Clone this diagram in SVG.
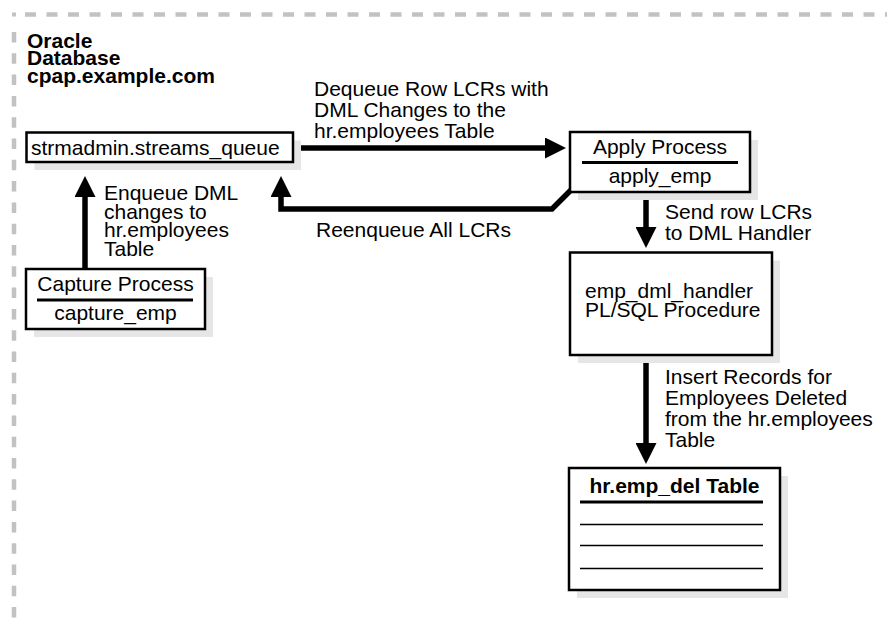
<svg xmlns="http://www.w3.org/2000/svg" width="887" height="621" viewBox="0 0 887 621">
<style>
text{font-family:"Liberation Sans",Arial,sans-serif;font-size:21px;fill:#000}
.b{font-weight:bold}
.c{text-anchor:middle}
.box{fill:#fff;stroke:#000;stroke-width:2.5}
.sh{fill:#e6e6e6;stroke:none}
.sep{stroke:#000;stroke-width:3}
.thin{stroke:#000;stroke-width:1.5}
.con{fill:none;stroke:#000;stroke-width:5.5;stroke-linejoin:miter}
.dash{fill:none;stroke:#c2c2c2;stroke-width:4.5}
</style>
<defs>
<marker id="ah" markerUnits="userSpaceOnUse" markerWidth="21" markerHeight="21" refX="0" refY="10.5" orient="auto" viewBox="0 0 21 21">
<path d="M0,0 L21,10.5 L0,21 Z" fill="#000"/>
</marker>
</defs>
<g id="border">
<rect x="12" y="12.5" width="4" height="4" fill="#c2c2c2"/>
<path class="dash" d="M25,14.5 H887" stroke-dasharray="11 10.5"/>
<path class="dash" d="M14,32 V621" stroke-dasharray="10.5 10.8"/>
</g>
<g id="title">
<text class="b" x="27" y="48">Oracle</text>
<text class="b" x="27" y="65">Database</text>
<text class="b" x="27" y="83">cpap.example.com</text>
</g>
<g id="connectors">
<path class="con" d="M293,148 H545" marker-end="url(#ah)"/>
<path class="con" d="M571,190 L552,209 H281 V197" marker-end="url(#ah)"/>
<path class="con" d="M85,269 V197" marker-end="url(#ah)"/>
<path class="con" d="M646,192 V227" marker-end="url(#ah)"/>
<path class="con" d="M646,355 V443" marker-end="url(#ah)"/>
<text x="314" y="96">Dequeue Row LCRs with</text>
<text x="314" y="117">DML Changes to the</text>
<text x="314" y="138">hr.employees Table</text>
<text x="316" y="237">Reenqueue All LCRs</text>
<text x="104" y="200">Enqueue DML</text>
<text x="104" y="218.5">changes to</text>
<text x="104" y="237">hr.employees</text>
<text x="104" y="255.5">Table</text>
<text x="665" y="219">Send row LCRs</text>
<text x="665" y="240">to DML Handler</text>
<text x="665" y="384">Insert Records for</text>
<text x="665" y="405">Employees Deleted</text>
<text x="665" y="426">from the hr.employees</text>
<text x="665" y="447">Table</text>
</g>
<g id="queue">
<rect class="sh" x="34.5" y="140.5" width="266.5" height="29.5"/>
<rect class="box" x="26.5" y="132.5" width="266.5" height="29.5"/>
<text x="31" y="155">strmadmin.streams_queue</text>
</g>
<g id="apply">
<rect class="sh" x="578" y="140" width="180" height="60"/>
<rect class="box" x="570" y="132" width="180" height="60"/>
<text class="c" x="660" y="154">Apply Process</text>
<line class="sep" x1="582" y1="162.5" x2="738" y2="162.5"/>
<text class="c" x="660" y="183">apply_emp</text>
</g>
<g id="capture">
<rect class="sh" x="34" y="277" width="179" height="60"/>
<rect class="box" x="26" y="269" width="179" height="60"/>
<text class="c" x="115.5" y="291">Capture Process</text>
<line class="sep" x1="37" y1="300" x2="193" y2="300"/>
<text class="c" x="115.5" y="320">capture_emp</text>
</g>
<g id="handler">
<rect class="sh" x="578" y="260.5" width="202" height="102.5"/>
<rect class="box" x="570" y="252.5" width="202" height="102.5"/>
<text x="585" y="298">emp_dml_handler</text>
<text x="585" y="317">PL/SQL Procedure</text>
</g>
<g id="emp_del">
<rect class="sh" x="577" y="476" width="211" height="122"/>
<rect class="box" x="569" y="468" width="211" height="122"/>
<text class="b c" x="674.5" y="493">hr.emp_del Table</text>
<line class="sep" x1="580" y1="502" x2="763" y2="502"/>
<line class="thin" x1="580" y1="524.5" x2="763" y2="524.5"/>
<line class="thin" x1="580" y1="545.5" x2="763" y2="545.5"/>
<line class="thin" x1="580" y1="568.5" x2="763" y2="568.5"/>
</g>
</svg>
